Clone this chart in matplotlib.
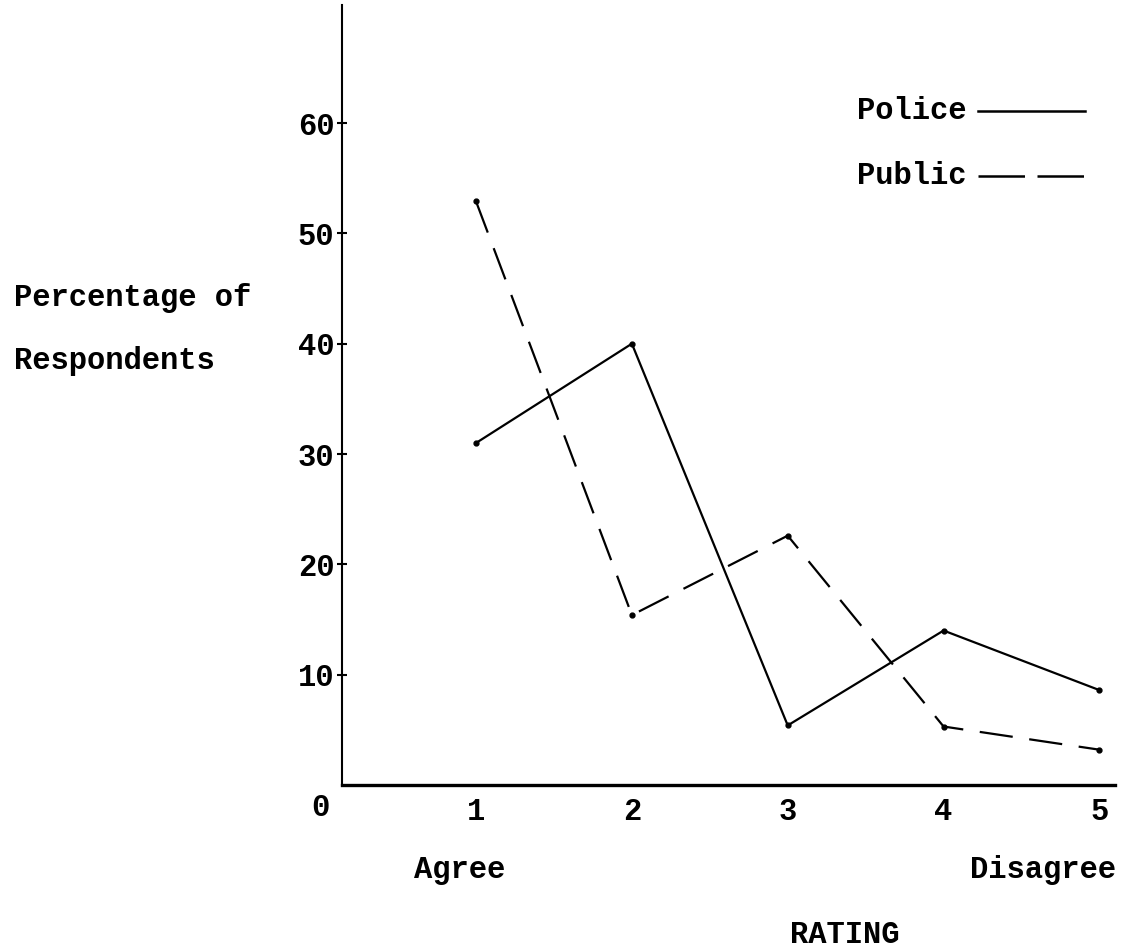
import matplotlib
matplotlib.use("Agg")
import matplotlib.pyplot as plt
from matplotlib.lines import Line2D

# ---- data ----
ratings = [1, 2, 3, 4, 5]
police = [31, 40, 5.4, 14, 8.6]
public = [52.9, 15.4, 22.6, 5.3, 3.2]
y_ticks = [10, 20, 30, 40, 50, 60]
x_ticks = [1, 2, 3, 4, 5]

W, H = 1131, 951
plt.rcParams['font.family'] = ['Liberation Mono', 'DejaVu Sans Mono']
plt.rcParams['font.weight'] = 'bold'
FS = 22

fig = plt.figure(figsize=(W / 100, H / 100), dpi=100)
fig.patch.set_facecolor('white')

def fx(px):
    return px / W

def fy(py):
    return 1 - py / H

ax = fig.add_axes([fx(342), fy(785), fx(1115) - fx(342), fy(5) - fy(785)])
ax.set_xlim(0.14, 5.10)
ax.set_ylim(0, 70.7)

ax.plot(ratings, police, color='black', lw=1.6, marker='o', ms=3.5,
        solid_joinstyle='miter')
ax.plot(ratings, public, color='black', lw=1.6, marker='o', ms=3.5,
        linestyle=(0, (15, 7.5)))

for s in ['top', 'right']:
    ax.spines[s].set_visible(False)
ax.spines['left'].set_linewidth(1.5)
ax.spines['bottom'].set_linewidth(2.4)

ax.set_yticks(y_ticks)
ax.set_yticklabels([str(v) for v in y_ticks], fontsize=FS, fontweight='bold')
ax.tick_params(axis='y', direction='inout', length=7, width=1.5, pad=2)
ax.set_xticks(x_ticks)
ax.set_xticklabels([str(v) for v in x_ticks], fontsize=FS, fontweight='bold')
ax.tick_params(axis='x', length=0, pad=9)

# origin label
fig.text(fx(320), fy(808), '0', fontsize=FS, fontweight='bold', ha='center', va='center')

# y-axis title
fig.text(fx(14), fy(298), 'Percentage of', fontsize=FS, fontweight='bold', ha='left', va='center')
fig.text(fx(14), fy(361), 'Respondents', fontsize=FS, fontweight='bold', ha='left', va='center')

# x-axis annotations
fig.text(fx(460), fy(870), 'Agree', fontsize=FS, fontweight='bold', ha='center', va='center')
fig.text(fx(1116), fy(870), 'Disagree', fontsize=FS, fontweight='bold', ha='right', va='center')
fig.text(fx(845), fy(935), 'RATING', fontsize=FS, fontweight='bold', ha='center', va='center')

# legend
fig.text(fx(857), fy(111), 'Police', fontsize=FS, fontweight='bold', ha='left', va='center')
fig.text(fx(857), fy(176), 'Public', fontsize=FS, fontweight='bold', ha='left', va='center')
fig.add_artist(Line2D([fx(978), fx(1085)], [fy(111), fy(111)], color='black', lw=1.8,
                      transform=fig.transFigure))
fig.add_artist(Line2D([fx(978), fx(1085)], [fy(176), fy(176)], color='black', lw=1.8,
                      linestyle=(0, (18.6, 5.0)), transform=fig.transFigure))

fig.savefig('out.png', dpi=100, facecolor='white')
